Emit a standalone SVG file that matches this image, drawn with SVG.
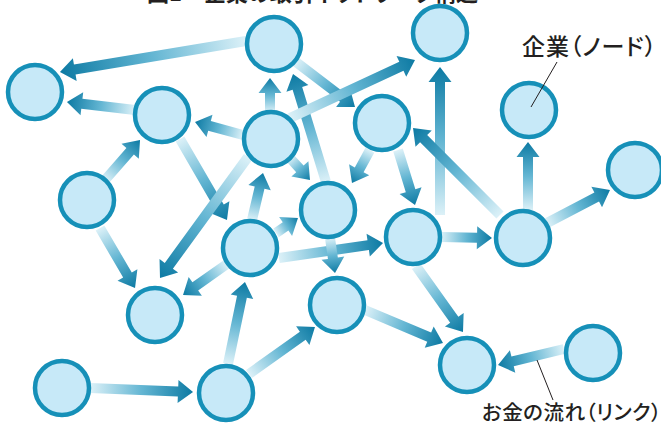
<svg xmlns="http://www.w3.org/2000/svg" width="661" height="425" viewBox="0 0 661 425">
<defs>
<linearGradient id="flow" x1="0" y1="0" x2="1" y2="0">
<stop offset="0" stop-color="#dcf1f8"/>
<stop offset="0.5" stop-color="#64b6d3"/>
<stop offset="1" stop-color="#0d7aa3"/>
</linearGradient>
</defs>
<style>
.node{fill:#c7e9f8;stroke:#1690b8;stroke-width:4.5}
.arr{fill:url(#flow)}
.lbl{font-family:"Noto Sans CJK JP","Noto Sans",sans-serif;fill:#231f20;font-feature-settings:"palt"}
.lead{stroke:#231f20;stroke-width:1;fill:none}
</style>
<rect width="661" height="425" fill="#ffffff"/>
<text class="lbl" x="147" y="1" font-size="22" font-weight="bold">図1　企業の取引ネットワーク構造</text>
<g id="connectors">
<path class="arr" transform="translate(246,41) rotate(170.54)" d="M0,-5H173.6V-11.5L188.6,0L173.6,11.5V5H0Z"/>
<path class="arr" transform="translate(135,110) rotate(186.71)" d="M0,-5H53.5V-11.5L68.5,0L53.5,11.5V5H0Z"/>
<path class="arr" transform="translate(243,135) rotate(195.15)" d="M0,-5H34.7V-11.5L49.7,0L34.7,11.5V5H0Z"/>
<path class="arr" transform="translate(105,180) rotate(-48.81)" d="M0,-5H38.2V-11.5L53.2,0L38.2,11.5V5H0Z"/>
<path class="arr" transform="translate(270,112) rotate(-90)" d="M0,-5H19V-11.5L34,0L19,11.5V5H0Z"/>
<path class="arr" transform="translate(326,182) rotate(-106.99)" d="M0,-5H97.9V-11.5L112.9,0L97.9,11.5V5H0Z"/>
<path class="arr" transform="translate(296,62) rotate(37.33)" d="M0,-5H59.2V-11.5L74.2,0L59.2,11.5V5H0Z"/>
<path class="arr" transform="translate(290,118) rotate(-24.89)" d="M0,-5H122.8V-11.5L137.8,0L122.8,11.5V5H0Z"/>
<path class="arr" transform="translate(440,215) rotate(-90)" d="M0,-5H133V-11.5L148,0L133,11.5V5H0Z"/>
<path class="arr" transform="translate(500,215) rotate(-135)" d="M0,-5H108V-11.5L123,0L108,11.5V5H0Z"/>
<path class="arr" transform="translate(528,210) rotate(-90)" d="M0,-5H53V-11.5L68,0L53,11.5V5H0Z"/>
<path class="arr" transform="translate(547,223) rotate(-27.65)" d="M0,-5H56.1V-11.5L71.1,0L56.1,11.5V5H0Z"/>
<path class="arr" transform="translate(441,237) rotate(1.12)" d="M0,-5H36V-11.5L51,0L36,11.5V5H0Z"/>
<path class="arr" transform="translate(370,150) rotate(118.61)" d="M0,-5H22.6V-11.5L37.6,0L22.6,11.5V5H0Z"/>
<path class="arr" transform="translate(398,150) rotate(72.82)" d="M0,-5H42.6V-11.5L57.6,0L42.6,11.5V5H0Z"/>
<path class="arr" transform="translate(290,158) rotate(47.73)" d="M0,-5H14.7V-11.5L29.7,0L14.7,11.5V5H0Z"/>
<path class="arr" transform="translate(252,220) rotate(-76.83)" d="M0,-5H33.3V-11.5L48.3,0L33.3,11.5V5H0Z"/>
<path class="arr" transform="translate(180,139) rotate(59.88)" d="M0,-5H78.6V-11.5L93.6,0L78.6,11.5V5H0Z"/>
<path class="arr" transform="translate(248,157) rotate(126.03)" d="M0,-5H134.6V-11.5L149.6,0L134.6,11.5V5H0Z"/>
<path class="arr" transform="translate(100,228) rotate(59.74)" d="M0,-5H54.5V-11.5L69.5,0L54.5,11.5V5H0Z"/>
<path class="arr" transform="translate(227,264) rotate(144.83)" d="M0,-5H38.8V-11.5L53.8,0L38.8,11.5V5H0Z"/>
<path class="arr" transform="translate(276,233) rotate(-34.29)" d="M0,-5H11.6V-11.5L26.6,0L11.6,11.5V5H0Z"/>
<path class="arr" transform="translate(279,258) rotate(-8.21)" d="M0,-5H90.1V-11.5L105.1,0L90.1,11.5V5H0Z"/>
<path class="arr" transform="translate(330,238) rotate(81.87)" d="M0,-5H20.4V-11.5L35.4,0L20.4,11.5V5H0Z"/>
<path class="arr" transform="translate(90,388) rotate(2.22)" d="M0,-5H88.1V-11.5L103.1,0L88.1,11.5V5H0Z"/>
<path class="arr" transform="translate(228,364) rotate(-78.29)" d="M0,-5H68.7V-11.5L83.7,0L68.7,11.5V5H0Z"/>
<path class="arr" transform="translate(249,374) rotate(-35.46)" d="M0,-5H66V-11.5L81,0L66,11.5V5H0Z"/>
<path class="arr" transform="translate(416,266) rotate(54.54)" d="M0,-5H66V-11.5L81,0L66,11.5V5H0Z"/>
<path class="arr" transform="translate(365,310) rotate(22.93)" d="M0,-5H69.7V-11.5L84.7,0L69.7,11.5V5H0Z"/>
<path class="arr" transform="translate(564,349) rotate(166.37)" d="M0,-5H52.9V-11.5L67.9,0L52.9,11.5V5H0Z"/>
</g>
<g id="nodeA"><circle class="node" cx="35" cy="92" r="27"/></g>
<g id="nodeB"><circle class="node" cx="162" cy="115" r="27"/></g>
<g id="nodeC"><circle class="node" cx="274" cy="44" r="27"/></g>
<g id="nodeD"><circle class="node" cx="271" cy="139" r="27"/></g>
<g id="nodeE"><circle class="node" cx="87" cy="200" r="27"/></g>
<g id="nodeF"><circle class="node" cx="440" cy="33" r="27"/></g>
<g id="nodeG"><circle class="node" cx="382" cy="123" r="27"/></g>
<g id="nodeH"><circle class="node" cx="529" cy="110" r="27"/></g>
<g id="nodeI"><circle class="node" cx="635" cy="170" r="27"/></g>
<g id="nodeS"><circle class="node" cx="328" cy="210" r="27"/></g>
<g id="nodeK"><circle class="node" cx="250" cy="248" r="27"/></g>
<g id="nodeN"><circle class="node" cx="413" cy="237" r="27"/></g>
<g id="nodeO"><circle class="node" cx="523" cy="238" r="27"/></g>
<g id="nodeJ"><circle class="node" cx="155" cy="315" r="27"/></g>
<g id="nodeP"><circle class="node" cx="337" cy="305" r="27"/></g>
<g id="nodeQ"><circle class="node" cx="467" cy="365" r="27"/></g>
<g id="nodeR"><circle class="node" cx="593" cy="353" r="27"/></g>
<g id="nodeL"><circle class="node" cx="62" cy="388" r="27"/></g>
<g id="nodeM"><circle class="node" cx="226" cy="393" r="27"/></g>
<g id="label-node">
<line class="lead" x1="557" y1="62" x2="531" y2="107"/>
<text class="lbl" x="522" y="55" font-size="23" font-weight="500" letter-spacing="1">企業（ノード）</text>
</g>
<g id="label-link">
<line class="lead" x1="537" y1="360" x2="553" y2="400"/>
<text class="lbl" x="482" y="420" font-size="20.5" font-weight="500" letter-spacing="0.5">お金の流れ（リンク）</text>
</g>
</svg>
